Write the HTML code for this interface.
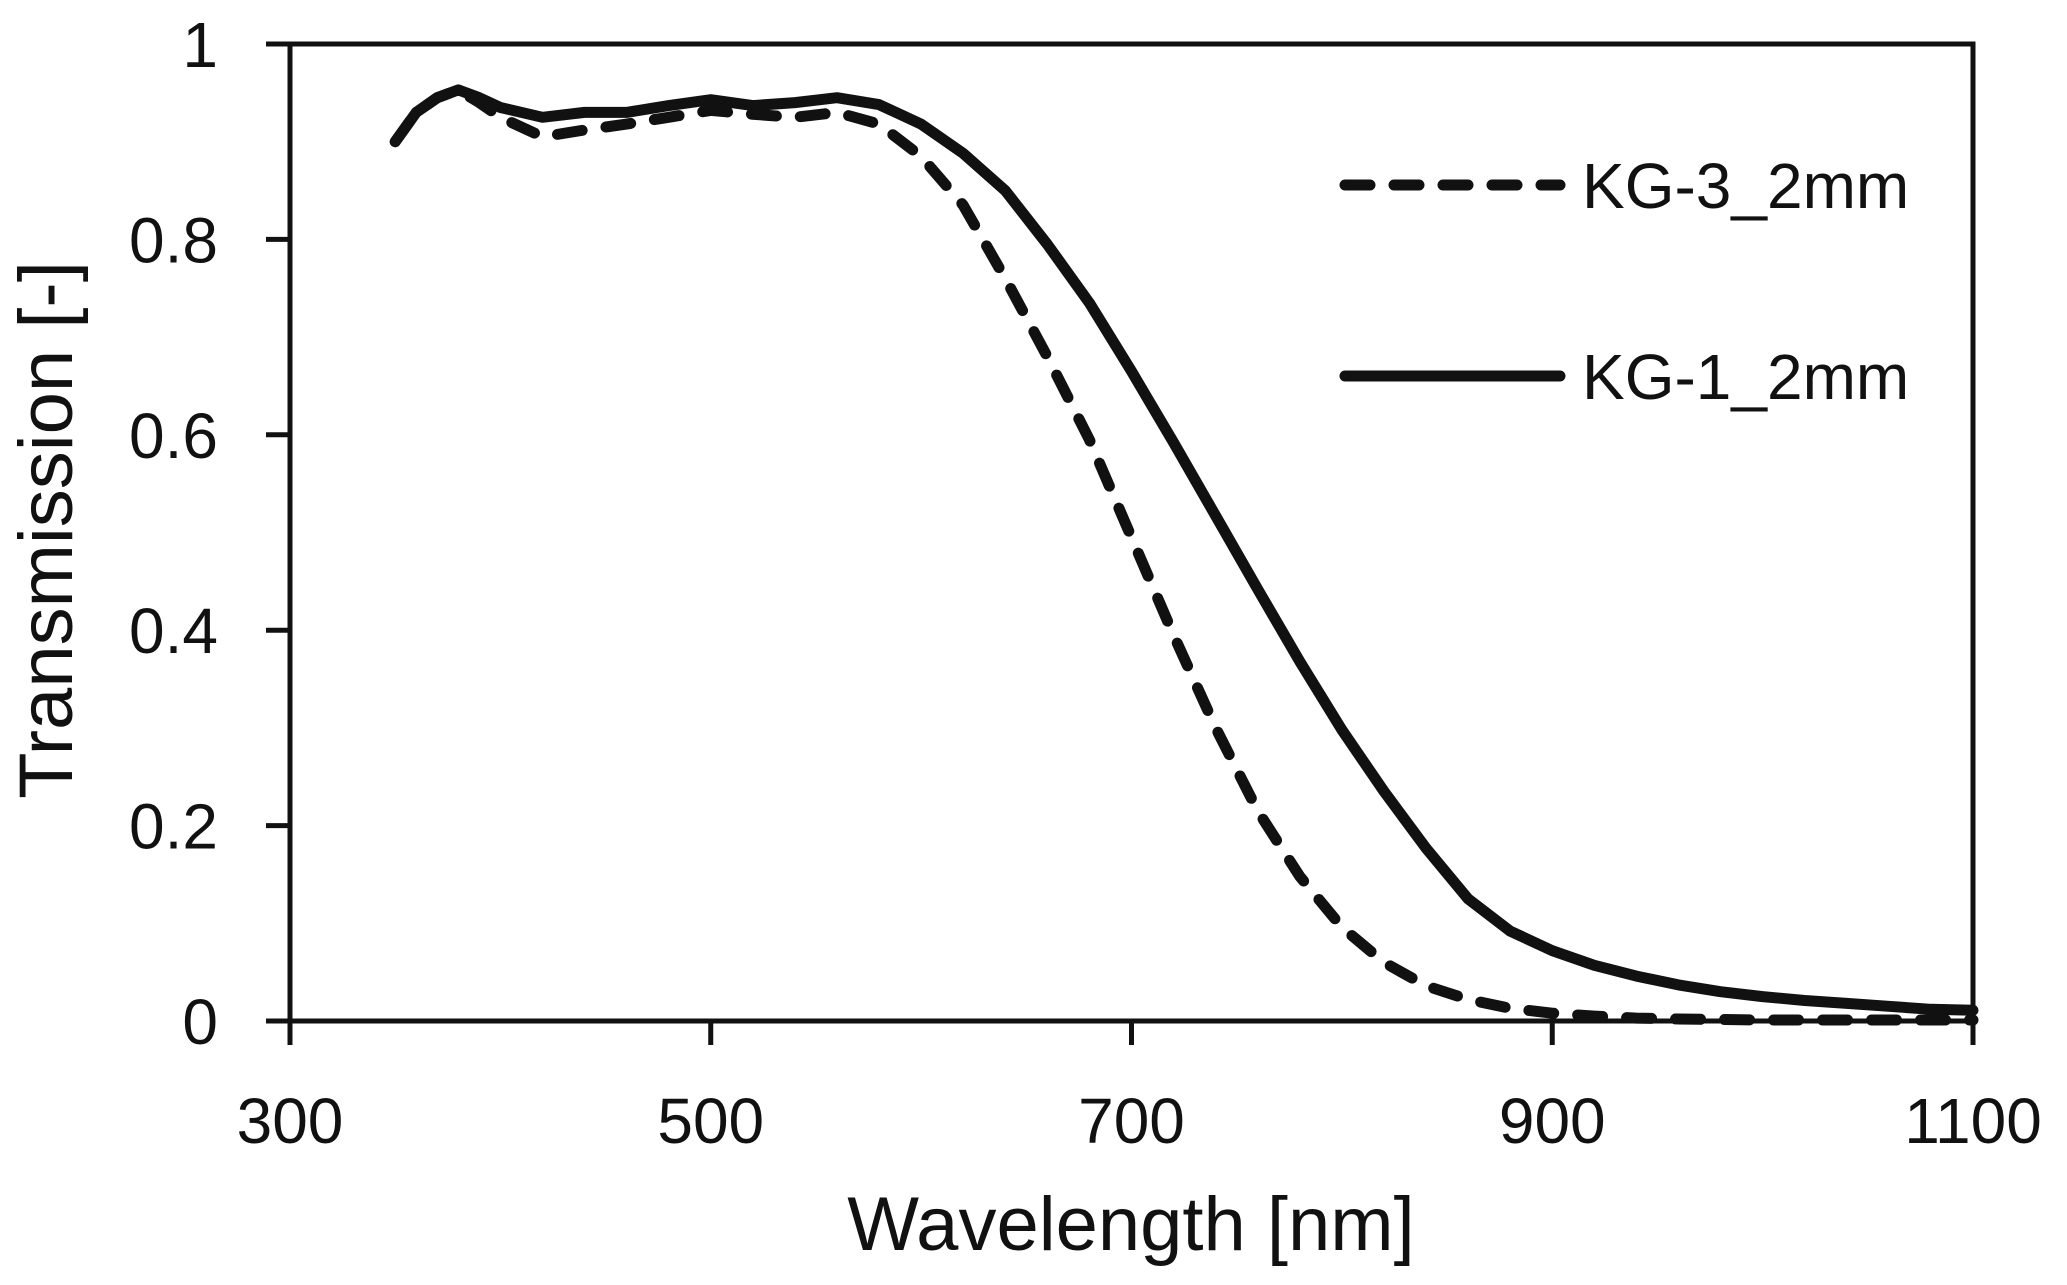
<!DOCTYPE html>
<html><head><meta charset="utf-8"><style>
html,body{margin:0;padding:0;background:#fff;}
svg{display:block;font-family:"Liberation Sans",sans-serif;}
</style></head><body>
<svg id="chart" width="2067" height="1285" viewBox="0 0 2067 1285">
<g id="axes"></g>
<g id="series"></g>
<g>
  <line x1="1345" y1="185" x2="1560" y2="185" stroke="#111" stroke-width="11" stroke-dasharray="25 24" stroke-linecap="round"/>
  <text x="1582" y="208" font-size="64" fill="#111">KG-3_2mm</text>
  <line x1="1345" y1="376" x2="1560" y2="376" stroke="#111" stroke-width="11" stroke-linecap="round"/>
  <text x="1582" y="399" font-size="64" fill="#111">KG-1_2mm</text>
</g>
<text x="1131" y="1250" font-size="76" fill="#111" text-anchor="middle">Wavelength [nm]</text>
<text transform="translate(72,530) rotate(-90)" font-size="76" fill="#111" text-anchor="middle">Transmission [-]</text>
</svg>
<script>
const xTicks=[300,500,700,900,1100];
const yTicks=[0,0.2,0.4,0.6,0.8,1];
const yTickLabels=["0","0.2","0.4","0.6","0.8","1"];
const kg1X=[350,360,370,380,390,400,420,440,460,480,500,520,540,560,580,600,620,640,660,680,700,720,740,760,780,800,820,840,860,880,900,920,940,960,980,1000,1020,1040,1060,1080,1100];
const kg1Y=[0.90,0.93,0.945,0.953,0.945,0.935,0.925,0.930,0.930,0.937,0.943,0.937,0.940,0.945,0.938,0.918,0.888,0.85,0.795,0.735,0.665,0.592,0.517,0.442,0.368,0.298,0.235,0.177,0.125,0.092,0.072,0.057,0.046,0.037,0.030,0.025,0.021,0.018,0.015,0.012,0.011];
const kg3X=[350,360,370,380,390,400,420,440,460,480,500,520,540,560,580,600,620,640,660,680,700,720,740,760,780,800,820,840,860,880,900,920,940,960,1000,1050,1100];
const kg3Y=[0.90,0.93,0.945,0.953,0.94,0.925,0.905,0.912,0.918,0.925,0.932,0.928,0.925,0.930,0.918,0.885,0.835,0.76,0.68,0.595,0.495,0.395,0.30,0.215,0.148,0.096,0.06,0.036,0.022,0.013,0.008,0.005,0.003,0.002,0.001,0.001,0.001];
const L=290,R=1973,T=44,B=1021;
const xs=v=>L+(v-300)/800*(R-L);
const ys=v=>B-v*(B-T);
const NS="http://www.w3.org/2000/svg";
const axes=document.getElementById('axes');
const ser=document.getElementById('series');
function mk(tag,attrs,parent){const e=document.createElementNS(NS,tag);for(const k in attrs)e.setAttribute(k,attrs[k]);parent.appendChild(e);return e;}
let f=mk('rect',{x:L,y:T,width:R-L,height:B-T,fill:'none',stroke:'#111','stroke-width':5},axes);


yTicks.forEach((v,i)=>{
  const t=mk('line',{x1:L-24,x2:L,y1:ys(v),y2:ys(v),stroke:'#111','stroke-width':5},axes);
  
  
  const lb=mk('text',{x:L-72,y:ys(v)+23,'font-size':64,'text-anchor':'end',fill:'#111'},axes);
  lb.textContent=yTickLabels[i];
  
  
});
xTicks.forEach(v=>{
  const t=mk('line',{x1:xs(v),x2:xs(v),y1:B,y2:B+24,stroke:'#111','stroke-width':5},axes);
  
  
  const lb=mk('text',{x:xs(v),y:1143,'font-size':64,'text-anchor':'middle',fill:'#111'},axes);
  lb.textContent=String(v);
  
  
});
function path(X,Y){return X.map((x,i)=>(i?'L':'M')+xs(x).toFixed(1)+','+ys(Y[i]).toFixed(1)).join(' ');}
const p3=mk('path',{d:path(kg3X,kg3Y),fill:'none',stroke:'#111','stroke-width':11,'stroke-dasharray':'25 24','stroke-linecap':'round','stroke-linejoin':'round'},ser);


const p1=mk('path',{d:path(kg1X,kg1Y),fill:'none',stroke:'#111','stroke-width':11,'stroke-linecap':'round','stroke-linejoin':'round'},ser);


</script>
</body></html>
